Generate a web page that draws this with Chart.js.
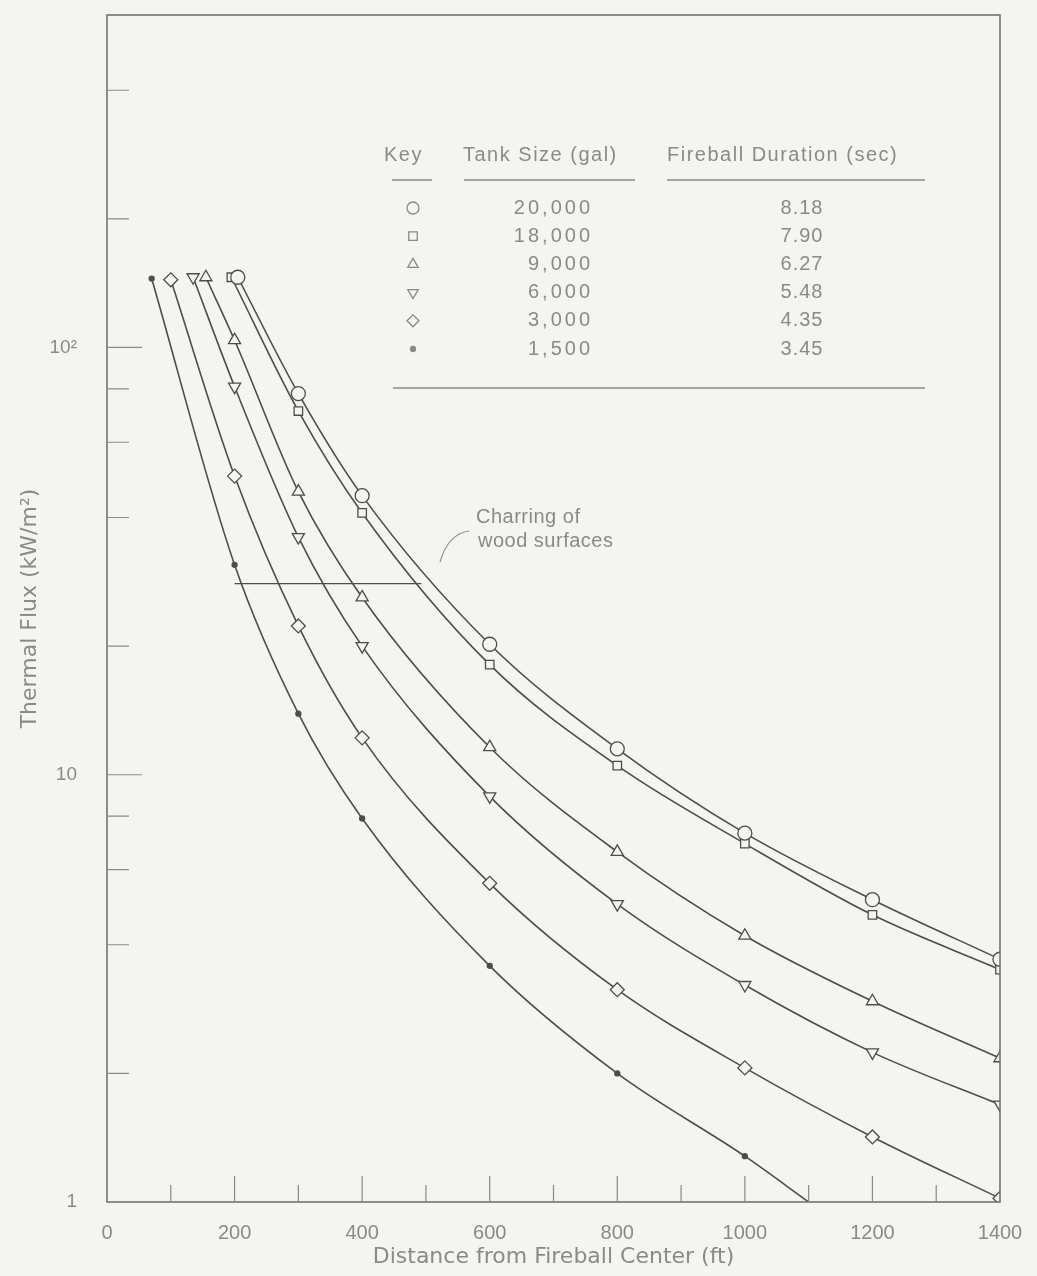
<!DOCTYPE html>
<html>
<head>
<meta charset="utf-8">
<script src="https://cdn.jsdelivr.net/npm/chart.js@4.4.0/dist/chart.umd.min.js"></script>
<style>
  html, body { margin: 0; padding: 0; background: #f4f4f1; overflow: hidden; }
</style>
</head>
<body>
<canvas id="fluxChart" width="1037" height="1276"></canvas>
<script>
// values (distance in ft, flux in kW/m2)
const tankSizes = ['20,000', '18,000', '9,000', '6,000', '3,000', '1,500'];
const durations = ['8.18', '7.90', '6.27', '5.48', '4.35', '3.45'];

const dist20000 = [205, 300, 400, 600, 800, 1000, 1200, 1400];
const flux20000 = [146, 78, 45, 20.2, 11.5, 7.3, 5.1, 3.7];
const dist18000 = [195, 300, 400, 600, 800, 1000, 1200, 1400];
const flux18000 = [146, 71, 41, 18.1, 10.5, 6.9, 4.7, 3.5];
const dist9000 = [155, 200, 300, 400, 600, 800, 1000, 1200, 1400];
const flux9000 = [146, 104, 46, 26, 11.6, 6.6, 4.2, 2.95, 2.17];
const dist6000 = [135, 200, 300, 400, 600, 800, 1000, 1200, 1400];
const flux6000 = [146, 81, 36, 20, 8.9, 4.98, 3.22, 2.24, 1.69];
const dist3000 = [100, 200, 300, 400, 600, 800, 1000, 1200, 1400];
const flux3000 = [144, 50, 22.3, 12.2, 5.57, 3.14, 2.06, 1.42, 1.02];
const dist1500 = [70, 200, 300, 400, 600, 800, 1000, 1100];
const flux1500 = [145, 31, 13.9, 7.9, 3.57, 2.0, 1.28, 1.0];

const charDist = [200, 493];
const charFlux = [28, 28];

const yLabelValues = [1, 10, 100];
const yMinorTicks = [2, 4, 6, 8, 20, 40, 60, 80, 200, 400];

const paper = '#f4f4f1';
const ink = '#4d4d4d';
const faint = '#8a8a8a';
const sans = '"Liberation Sans", Arial, sans-serif';

function pts(xs, ys) {
  return xs.map((x, i) => ({ x: x, y: ys[i] }));
}

function curve(xs, ys, style, radius, extra) {
  return Object.assign({
    data: pts(xs, ys),
    showLine: true,
    borderColor: ink,
    borderWidth: 1.6,
    cubicInterpolationMode: 'monotone',
    pointStyle: style,
    pointRadius: radius,
    pointBorderColor: ink,
    pointBorderWidth: 1.3,
    pointBackgroundColor: paper
  }, extra || {});
}

const datasets = [
  curve(dist20000, flux20000, 'circle', 7),
  curve(dist18000, flux18000, 'rect', 6),
  curve(dist9000, flux9000, 'triangle', 7),
  curve(dist6000, flux6000, 'triangle', 7, { pointRotation: 180 }),
  curve(dist3000, flux3000, 'rectRot', 7),
  curve(dist1500, flux1500, 'circle', dist1500.map((d, i) => i === dist1500.length - 1 ? 0 : 2.5),
    { pointBackgroundColor: ink }),
  {
    data: pts(charDist, charFlux),
    showLine: true,
    borderColor: ink,
    borderWidth: 1.2,
    pointRadius: 0
  }
];

const frameAndTicks = {
  id: 'frameAndTicks',
  afterDraw(chart) {
    const ctx = chart.ctx;
    const a = chart.chartArea;
    const xs = chart.scales.x;
    const ys = chart.scales.y;
    ctx.save();
    ctx.strokeStyle = '#6a6a6a';
    ctx.lineWidth = 1.5;
    ctx.strokeRect(a.left, a.top, a.right - a.left, a.bottom - a.top);

    ctx.strokeStyle = faint;
    ctx.lineWidth = 1.2;
    ctx.beginPath();
    yMinorTicks.forEach(v => {
      const y = ys.getPixelForValue(v);
      ctx.moveTo(a.left, y);
      ctx.lineTo(a.left + 22, y);
    });
    [10, 100].forEach(v => {
      const y = ys.getPixelForValue(v);
      ctx.moveTo(a.left, y);
      ctx.lineTo(a.left + 35, y);
    });
    for (let d = 100; d < 1400; d += 100) {
      const x = xs.getPixelForValue(d);
      ctx.moveTo(x, a.bottom);
      ctx.lineTo(x, a.bottom - (d % 200 === 0 ? 26 : 17));
    }
    ctx.stroke();
    ctx.restore();
  }
};

const keyTable = {
  id: 'keyTable',
  afterDraw(chart) {
    const ctx = chart.ctx;
    ctx.save();
    ctx.fillStyle = faint;
    ctx.font = '20px ' + sans;
    ctx.letterSpacing = '1.5px';
    ctx.textBaseline = 'middle';
    ctx.textAlign = 'left';
    ctx.fillText('Key', 384, 155);
    ctx.fillText('Tank Size (gal)', 463, 155);
    ctx.fillText('Fireball Duration (sec)', 667, 155);

    ctx.strokeStyle = faint;
    ctx.lineWidth = 1.3;
    ctx.beginPath();
    ctx.moveTo(392, 180); ctx.lineTo(432, 180);
    ctx.moveTo(464, 180); ctx.lineTo(635, 180);
    ctx.moveTo(667, 180); ctx.lineTo(925, 180);
    ctx.moveTo(393, 388); ctx.lineTo(925, 388);
    ctx.stroke();

    for (let i = 0; i < tankSizes.length; i++) {
      const y = 208 + i * 28.2;
      const ds = chart.data.datasets[i];
      ctx.fillStyle = faint;
      ctx.textAlign = 'right';
      ctx.letterSpacing = '3px';
      ctx.fillText(tankSizes[i], 593, y);
      ctx.textAlign = 'center';
      ctx.letterSpacing = '1px';
      ctx.fillText(durations[i], 802, y);
      ctx.strokeStyle = faint;
      ctx.fillStyle = i === 5 ? faint : paper;
      Chart.helpers.drawPoint(ctx, {
        pointStyle: ds.pointStyle,
        radius: i === 5 ? 2.5 : 6,
        rotation: ds.pointRotation || 0,
        borderWidth: 1.2
      }, 413, y);
    }

    // charring annotation
    ctx.fillStyle = faint;
    ctx.textAlign = 'left';
    ctx.letterSpacing = '0.5px';
    ctx.fillText('Charring of', 476, 517);
    ctx.fillText('wood surfaces', 478, 541);
    ctx.strokeStyle = faint;
    ctx.lineWidth = 1.1;
    ctx.beginPath();
    ctx.moveTo(440, 562);
    ctx.quadraticCurveTo(448, 534, 469, 531);
    ctx.stroke();
    ctx.restore();
  }
};

const ctx = document.getElementById('fluxChart').getContext('2d');
const fluxChart = new Chart(ctx, {
  type: 'scatter',
  data: { datasets: datasets },
  options: {
    responsive: false,
    animation: false,
    layout: { padding: { top: 15, right: 37, left: 0, bottom: 0 } },
    plugins: {
      legend: { display: false },
      tooltip: { enabled: false }
    },
    scales: {
      x: {
        type: 'linear',
        min: 0,
        max: 1400,
        grid: { display: false, drawTicks: false },
        border: { display: false },
        ticks: {
          stepSize: 200,
          padding: 19,
          color: faint,
          font: { family: sans, size: 20 },
          callback: v => String(v)
        },
        title: {
          display: true,
          text: 'Distance from Fireball Center (ft)',
          color: faint,
          padding: { top: 0, bottom: 6 },
          font: { family: '"DejaVu Sans", sans-serif', size: 22 }
        },
        afterFit(scale) {
          scale.height = 74;
          scale.paddingLeft = 0;
          scale.paddingRight = 0;
        }
      },
      y: {
        type: 'logarithmic',
        min: 1,
        max: 600,
        grid: { display: false, drawTicks: false },
        border: { display: false },
        afterBuildTicks(scale) {
          scale.ticks = yLabelValues.map(v => ({ value: v }));
        },
        ticks: {
          padding: 30,
          color: faint,
          font: { family: sans, size: 19 },
          callback: v => v === 100 ? '10²' : String(v)
        },
        title: {
          display: true,
          text: 'Thermal Flux (kW/m²)',
          color: faint,
          padding: { top: 17, bottom: 0 },
          font: { family: '"DejaVu Sans", sans-serif', size: 22 }
        },
        afterFit(scale) {
          scale.width = 107;
          scale.paddingTop = 0;
          scale.paddingBottom = 0;
        }
      }
    }
  },
  plugins: [frameAndTicks, keyTable]
});
</script>
</body>
</html>
